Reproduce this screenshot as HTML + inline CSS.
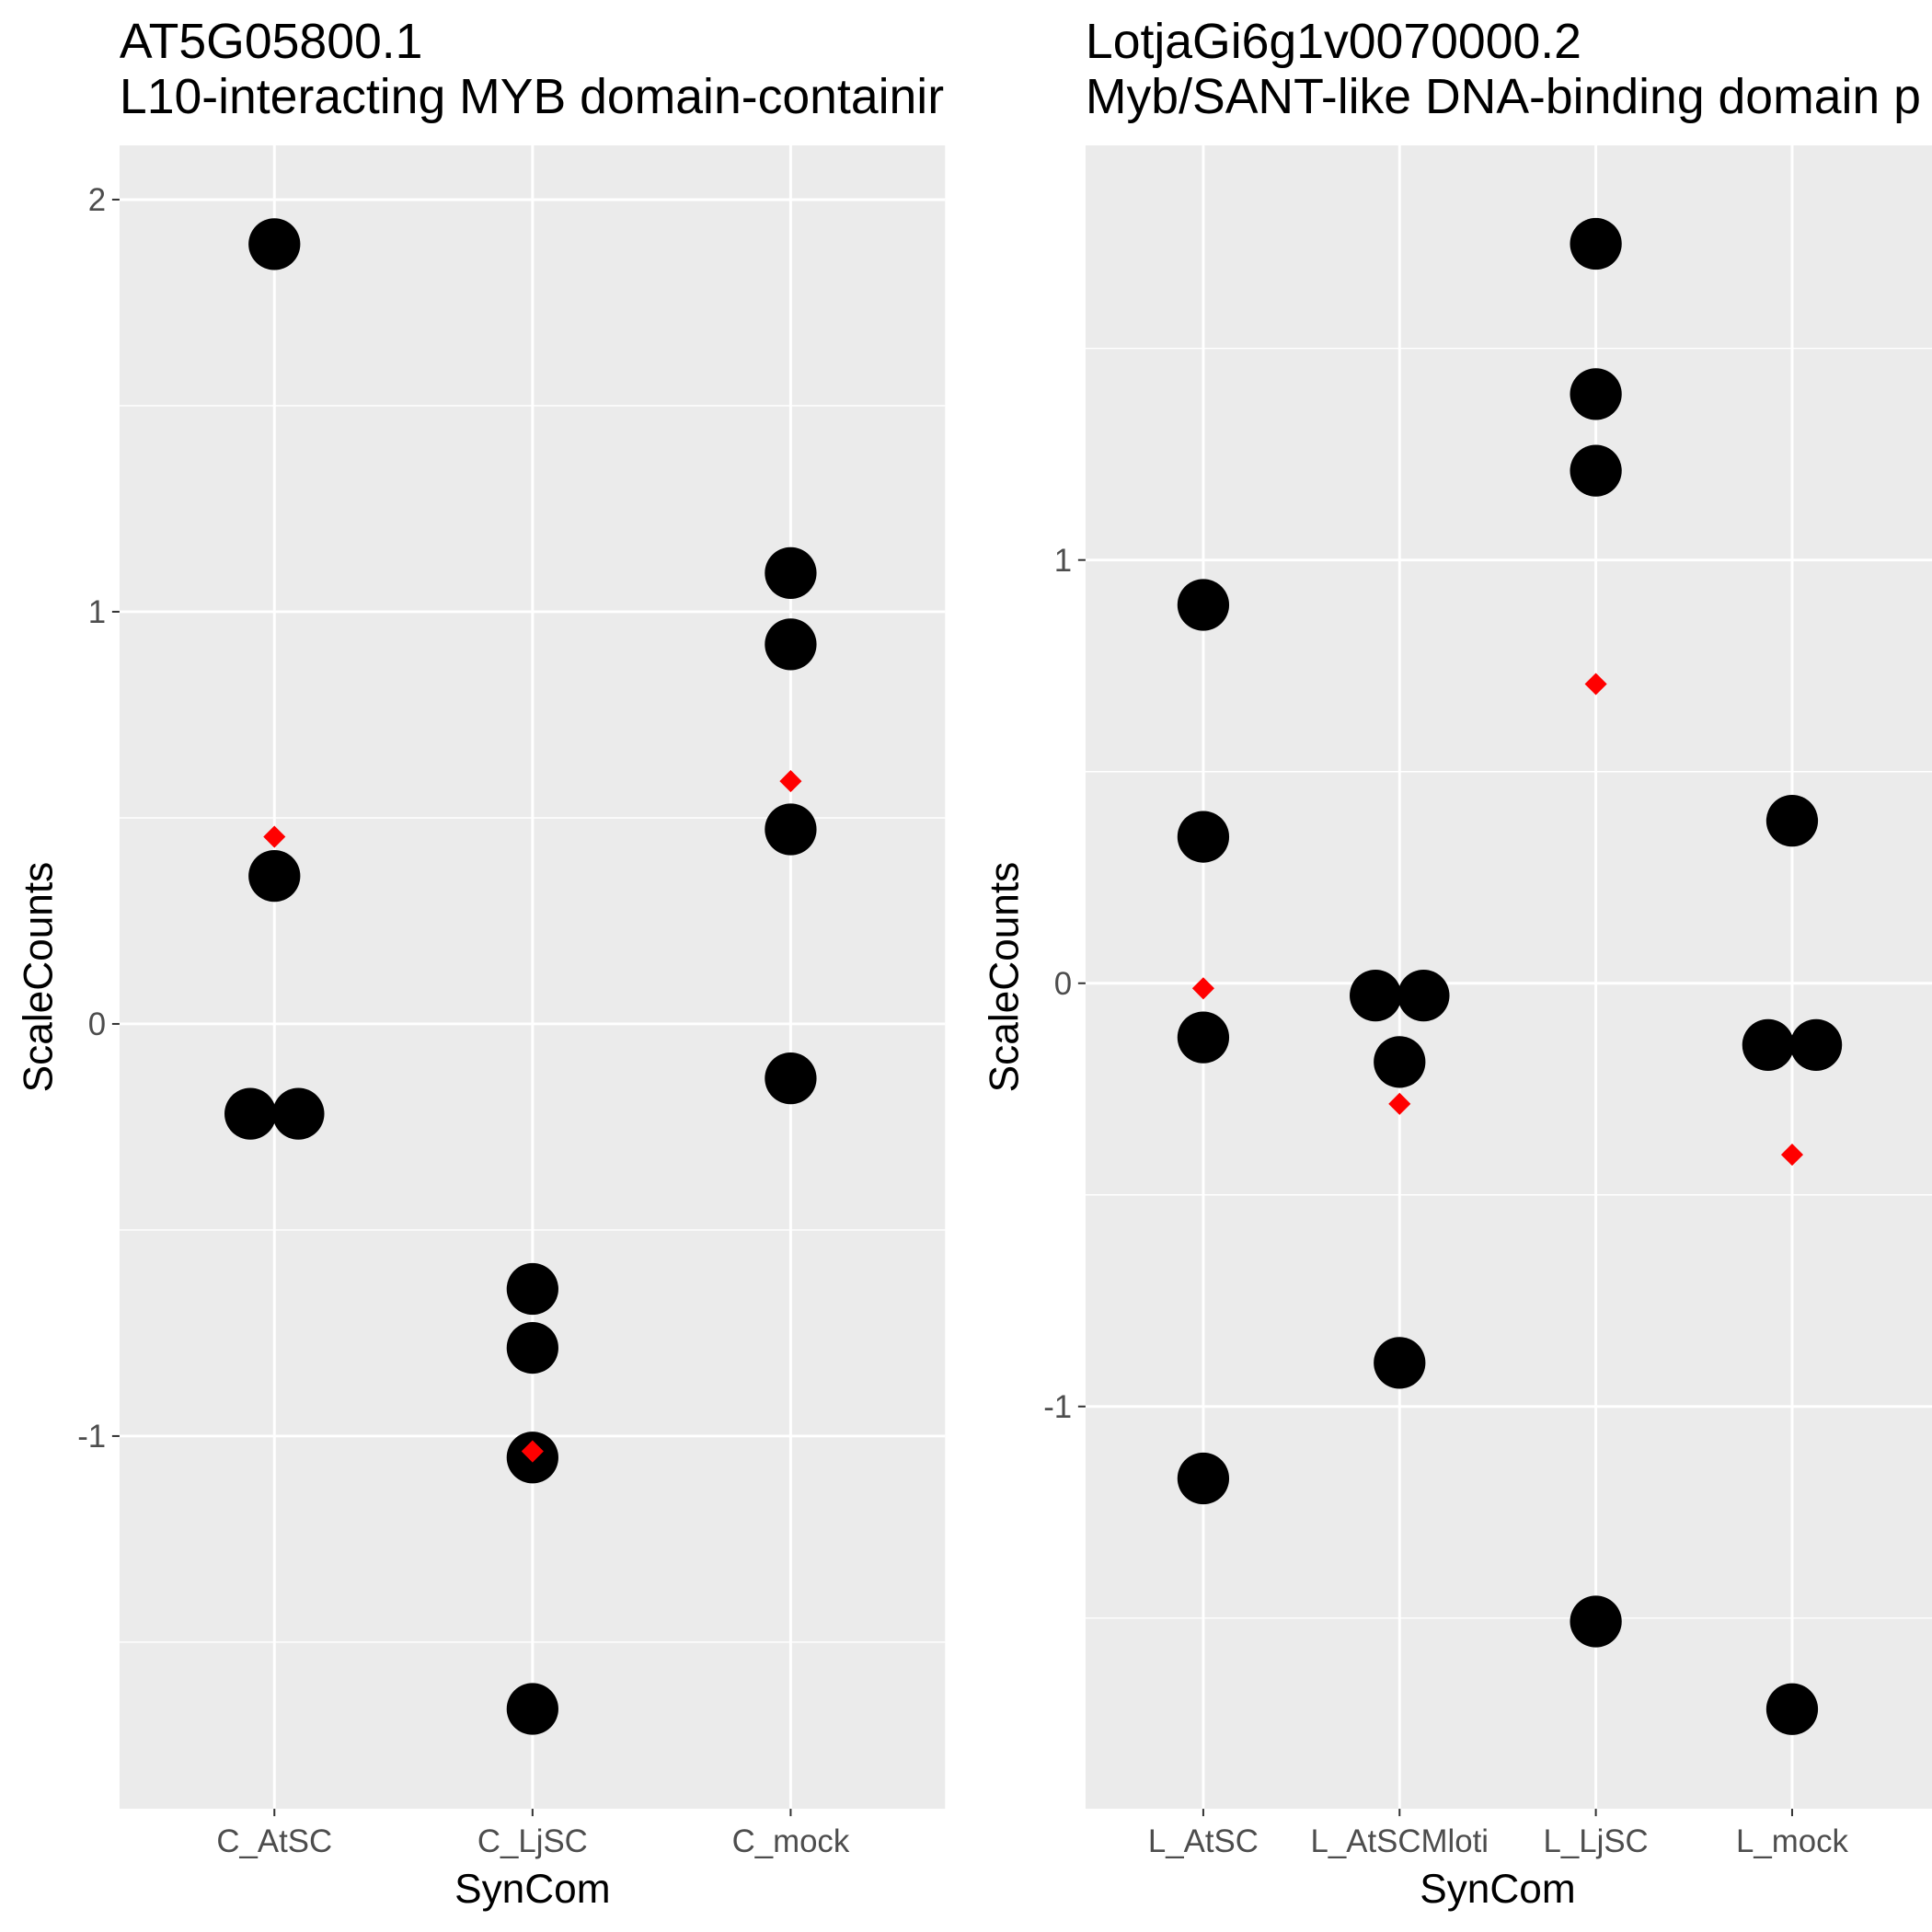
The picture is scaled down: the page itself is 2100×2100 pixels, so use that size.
<!DOCTYPE html>
<html><head><meta charset="utf-8"><style>
html,body{margin:0;padding:0;background:#fff}
svg{display:block}
text{font-family:"Liberation Sans",Arial,sans-serif}
</style></head><body>
<svg id="chart" width="2100" height="2100" viewBox="0 0 1568 1568" xmlns="http://www.w3.org/2000/svg"></svg>
<script>
const leftCats=["C_AtSC","C_LjSC","C_mock"];
const leftVals=[[1.892,0.359,-0.218,-0.218],[-0.643,-0.786,-1.052,-1.662],[1.094,0.921,0.472,-0.132]];
const leftMeans=[0.454,-1.037,0.589];
const leftTicks=[-1,0,1,2];
const rightCats=["L_AtSC","L_AtSCMloti","L_LjSC","L_mock"];
const rightVals=[[0.894,0.346,-0.128,-1.170],[-0.029,-0.029,-0.186,-0.897],[1.747,1.392,1.211,-1.508],[0.384,-0.146,-0.146,-1.715]];
const rightMeans=[-0.012,-0.285,0.707,-0.405];
const rightTicks=[-1,0,1];

const NS="http://www.w3.org/2000/svg";
const svg=document.getElementById('chart');
function mk(tag,attrs,parent,name,txt){const e=document.createElementNS(NS,tag);for(const k in attrs)e.setAttribute(k,attrs[k]);


if(txt!==undefined)e.textContent=txt;(parent||svg).appendChild(e);return e;}

function panel(p){
  const g=mk('g',{},svg,p.name);
  const y=v=>p.y0-(v)*p.ppu;
  const step=p.step;
  const x=i=>p.x0+step*(0.6+i);
  mk('rect',{x:p.x0,y:118,width:p.x1-p.x0,height:1350,fill:'#ebebeb'},g,'panel-background');
  const vmin=(p.y0-1468)/p.ppu,vmax=(p.y0-118)/p.ppu;
  for(let v=Math.ceil(vmin*2)/2;v<=vmax;v+=0.5){
    const major=Math.abs(v-Math.round(v))<1e-6;
    mk('line',{x1:p.x0,x2:p.x1,y1:y(v),y2:y(v),stroke:'#fff','stroke-width':major?2.2:1.1},g,major?'major-gridline':'minor-gridline');
  }
  p.cats.forEach((c,i)=>{
    mk('line',{x1:x(i),x2:x(i),y1:118,y2:1468,stroke:'#fff','stroke-width':2.2},g,'x-gridline');
    mk('line',{x1:x(i),x2:x(i),y1:1468,y2:1474,stroke:'#333','stroke-width':1.5},g,'x-tick');
    mk('text',{x:x(i),y:1503,'font-size':26,fill:'#4d4d4d','text-anchor':'middle'},g,'x-tick-label',c);
  });
  p.ticks.forEach(t=>{
    mk('line',{x1:p.x0-6,x2:p.x0,y1:y(t),y2:y(t),stroke:'#333','stroke-width':1.5},g,'y-tick');
    mk('text',{x:p.x0-11,y:y(t)+9,'font-size':26,fill:'#4d4d4d','text-anchor':'end'},g,'y-tick-label',String(t));
  });
  p.vals.forEach((arr,i)=>{
    const seen={};
    arr.forEach(v=>{seen[v]=(seen[v]||0)+1;});
    const used={};
    arr.forEach(v=>{
      let cx=x(i);
      if(seen[v]>1){const k=used[v]||0;used[v]=k+1;cx=x(i)+(k-(seen[v]-1)/2)*39;}
      mk('circle',{cx:cx,cy:y(v),r:21,fill:'#000'},g,'data-point');
    });
  });
  p.means.forEach((m,i)=>{
    const cx=x(i),cy=y(m),d=9;
    mk('polygon',{points:`${cx},${cy-d} ${cx+d},${cy} ${cx},${cy+d} ${cx-d},${cy}`,fill:'#ff0000'},g,'mean-marker');
  });
  mk('text',{x:p.x0+step*(0.6+(p.cats.length-1)/2),y:1544,'font-size':33,fill:'#000','text-anchor':'middle'},g,'x-axis-title','SynCom');
  mk('text',{x:0,y:0,'font-size':33,fill:'#000','text-anchor':'middle',transform:`translate(${p.x0-55},${793}) rotate(-90)`},g,'y-axis-title','ScaleCounts');
  mk('text',{x:p.x0,y:47,'font-size':40,fill:'#000'},g,'title-line1',p.t1);
  mk('text',{x:p.x0,y:92,'font-size':40,fill:'#000'},g,'title-line2',p.t2);
}
panel({name:'left-panel',cats:leftCats,vals:leftVals,means:leftMeans,ticks:leftTicks,x0:97,x1:767,step:209.5,y0:831,ppu:334.5,
  t1:'AT5G05800.1',t2:'L10-interacting MYB domain-containir'});
panel({name:'right-panel',cats:rightCats,vals:rightVals,means:rightMeans,ticks:rightTicks,x0:881,x1:1568,step:159.3,y0:798,ppu:343.5,
  t1:'LotjaGi6g1v0070000.2',t2:'Myb/SANT-like DNA-binding domain p'});
</script>
</body></html>
